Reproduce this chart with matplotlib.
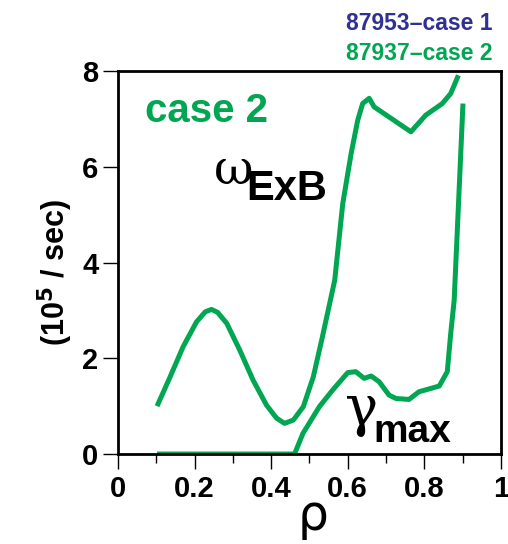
import matplotlib
matplotlib.use('Agg')
import matplotlib.pyplot as plt
from matplotlib.ticker import MultipleLocator

# 字体
FONT = ['Liberation Sans Narrow', 'Liberation Sans', 'DejaVu Sans']
plt.rcParams['font.family'] = FONT

GREEN = '#00a651'
BLUE = '#2e3192'

# omega_ExB (case 2)
rho_exb = [0.102, 0.136, 0.170, 0.205, 0.228, 0.244, 0.260, 0.284, 0.318, 0.353, 0.388,
           0.414, 0.435, 0.458, 0.484, 0.510, 0.532, 0.553, 0.566, 0.587, 0.609,
           0.626, 0.639, 0.656, 0.669, 0.765, 0.804, 0.847, 0.869, 0.889]
val_exb = [1.0, 1.61, 2.24, 2.76, 2.97, 3.02, 2.96, 2.73, 2.17, 1.54, 1.02,
           0.75, 0.64, 0.71, 0.99, 1.61, 2.38, 3.15, 3.63, 5.23, 6.28,
           6.97, 7.32, 7.43, 7.25, 6.73, 7.08, 7.32, 7.53, 7.91]

# gamma_max (case 2)
rho_gam = [0.102, 0.461, 0.483, 0.526, 0.561, 0.60, 0.621, 0.643, 0.661, 0.682,
           0.708, 0.726, 0.76, 0.786, 0.839, 0.86, 0.869, 0.878, 0.901]
val_gam = [0.0, 0.0, 0.43, 0.99, 1.34, 1.70, 1.72, 1.58, 1.63, 1.51,
           1.23, 1.16, 1.14, 1.30, 1.42, 1.72, 2.52, 3.21, 7.32]

fig = plt.figure(figsize=(5.08, 5.44), dpi=100)
ax = fig.add_axes([0.2323, 0.1654, 0.7537, 0.7041])

ax.plot(rho_exb, val_exb, color=GREEN, lw=3.6, solid_joinstyle='round', solid_capstyle='butt')
ax.plot(rho_gam, val_gam, color=GREEN, lw=3.6, solid_joinstyle='round', solid_capstyle='butt')

ax.set_xlim(0, 1)
ax.set_ylim(0, 8)
ax.xaxis.set_minor_locator(MultipleLocator(0.1))
ax.set_xticks([0, 0.2, 0.4, 0.6, 0.8, 1.0])
ax.set_xticklabels(['0', '0.2', '0.4', '0.6', '0.8', '1'])
ax.set_yticks([0, 2, 4, 6, 8])
ax.set_yticklabels(['0', '2', '4', '6', '8'])

for s in ax.spines.values():
    s.set_linewidth(2.0)
ax.tick_params(axis='both', which='major', direction='out', length=11, width=1.0,
               labelsize=21, pad=3)
ax.tick_params(axis='x', which='minor', direction='out', length=6.5, width=1.0)
ax.tick_params(axis='x', which='major', pad=4)
for lab in ax.get_xticklabels() + ax.get_yticklabels():
    lab.set_fontweight('bold')

# 注释文字
ax.text(0.07, 6.93, 'case 2', color=GREEN, fontsize=29, fontweight='bold',
        ha='left', va='baseline')
ax.text(0.250, 5.64, '\u03c9', color='black', fontsize=35, family='DejaVu Serif',
        ha='left', va='baseline')
ax.text(0.336, 5.3, 'ExB', color='black', fontsize=30, fontweight='bold',
        ha='left', va='baseline')
ax.text(0.594, 0.60, '\u03b3', color='black', fontsize=40, family='DejaVu Serif',
        ha='left', va='baseline')
ax.text(0.668, 0.25, 'max', color='black', fontsize=28, fontweight='bold',
        ha='left', va='baseline')

# 图例文字
fig.text(0.970, 0.945, '87953\u2013case 1', color=BLUE, fontsize=16.5,
         fontweight='bold', ha='right', va='baseline')
fig.text(0.970, 0.890, '87937\u2013case 2', color=GREEN, fontsize=16.5,
         fontweight='bold', ha='right', va='baseline')

# 坐标轴标签
fig.text(55 / 508, 1 - 272 / 544, r'(10$^{\mathbf{5}}$ / sec)', rotation=90,
         fontsize=22, fontweight='bold', ha='center', va='center')
fig.text(313 / 508, 1 - 530 / 544, '\u03c1', fontsize=35, family='DejaVu Sans',
         ha='center', va='baseline')

fig.savefig('out.png', dpi=100)
